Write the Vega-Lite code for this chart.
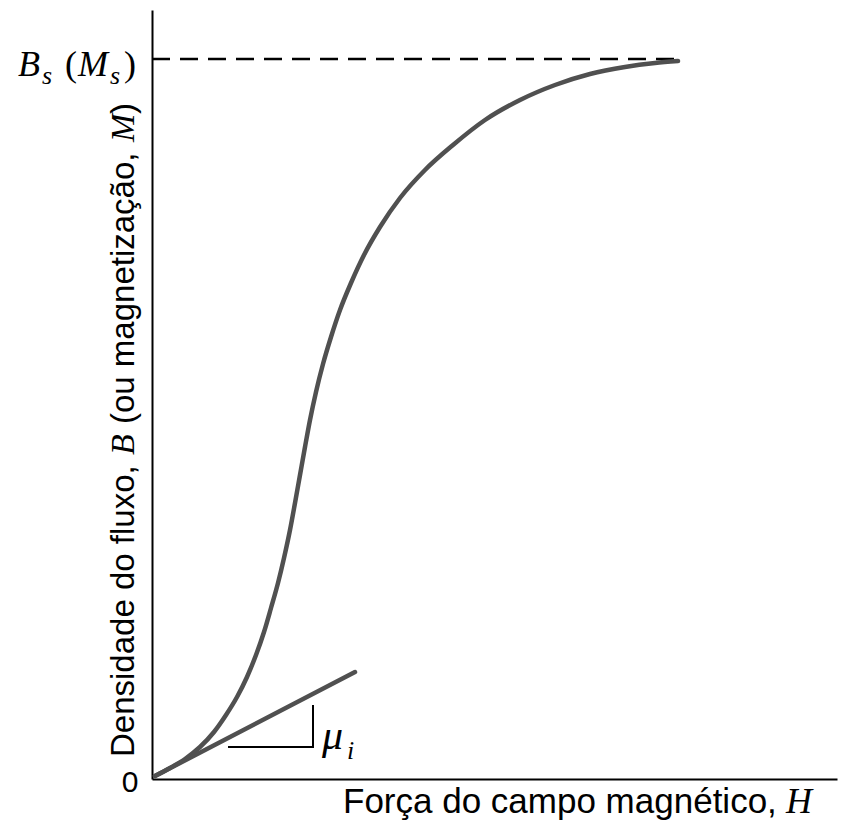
{
  "$schema": "https://vega.github.io/schema/vega-lite/v6.json",
  "width": 685,
  "height": 769,
  "autosize": {"type": "none"},
  "padding": {"left": 152, "top": 10, "right": 8, "bottom": 44},
  "background": "white",
  "config": {"view": {"stroke": null}},
  "datasets": {
    "curve": [
      {"H": 3, "B": 3}, {"H": 18, "B": 11}, {"H": 33, "B": 20}, {"H": 48, "B": 32},
      {"H": 62, "B": 47}, {"H": 74, "B": 64}, {"H": 85, "B": 82}, {"H": 95, "B": 102},
      {"H": 104, "B": 124}, {"H": 112, "B": 147}, {"H": 119, "B": 171}, {"H": 126, "B": 196},
      {"H": 132, "B": 221}, {"H": 138, "B": 249}, {"H": 143, "B": 276}, {"H": 148, "B": 304},
      {"H": 153, "B": 332}, {"H": 158, "B": 359}, {"H": 164, "B": 387}, {"H": 171, "B": 415},
      {"H": 179, "B": 442}, {"H": 188, "B": 469}, {"H": 199, "B": 496}, {"H": 212, "B": 524},
      {"H": 228, "B": 552}, {"H": 248, "B": 581}, {"H": 273, "B": 609}, {"H": 301, "B": 634},
      {"H": 333, "B": 659}, {"H": 368, "B": 679}, {"H": 403, "B": 694}, {"H": 438, "B": 705},
      {"H": 473, "B": 712}, {"H": 503, "B": 716}, {"H": 526, "B": 718}
    ],
    "tangent": [{"H": 3, "B": 3}, {"H": 203, "B": 107}],
    "triangle": [{"i": 0, "H": 76, "B": 32}, {"i": 1, "H": 161, "B": 32}, {"i": 2, "H": 161, "B": 74}],
    "sat": [{"H": 0, "B": 720}, {"H": 526, "B": 720}]
  },
  "encoding": {
    "x": {"type": "quantitative", "scale": {"domain": [0, 685], "nice": false, "zero": false}},
    "y": {"type": "quantitative", "scale": {"domain": [0, 769], "nice": false, "zero": false}}
  },
  "layer": [
    {
      "data": {"name": "sat"},
      "mark": {"type": "line", "color": "black", "strokeWidth": 2.5, "strokeDash": [18, 10]},
      "encoding": {
        "x": {"field": "H", "type": "quantitative", "axis": {"domain": true, "domainColor": "black", "domainWidth": 2, "ticks": false, "labels": false, "grid": false, "title": null}},
        "y": {"field": "B", "type": "quantitative", "axis": {"domain": true, "domainColor": "black", "domainWidth": 2, "ticks": false, "labels": false, "grid": false, "title": null}}
      }
    },
    {
      "data": {"name": "curve"},
      "mark": {"type": "line", "color": "#505050", "strokeWidth": 4.5, "interpolate": "monotone", "strokeCap": "round"},
      "encoding": {"x": {"field": "H", "type": "quantitative"}, "y": {"field": "B", "type": "quantitative"}}
    },
    {
      "data": {"name": "tangent"},
      "mark": {"type": "line", "color": "#505050", "strokeWidth": 4.5, "strokeCap": "round"},
      "encoding": {"x": {"field": "H", "type": "quantitative"}, "y": {"field": "B", "type": "quantitative"}}
    },
    {
      "data": {"name": "triangle"},
      "mark": {"type": "line", "color": "black", "strokeWidth": 2},
      "encoding": {"x": {"field": "H", "type": "quantitative"}, "y": {"field": "B", "type": "quantitative"}, "order": {"field": "i", "type": "quantitative"}}
    },
    {
      "data": {"values": [{"t": "Força do campo magnético, ", "H": 191, "B": -34}]},
      "mark": {"type": "text", "font": "Liberation Sans", "fontSize": 35, "align": "left", "baseline": "alphabetic", "color": "black"},
      "encoding": {"x": {"field": "H", "type": "quantitative"}, "y": {"field": "B", "type": "quantitative"}, "text": {"field": "t"}}
    },
    {
      "data": {"values": [{"t": "0", "H": -22, "B": -4}]},
      "mark": {"type": "text", "font": "Liberation Sans", "fontSize": 30, "align": "center", "baseline": "middle", "color": "black"},
      "encoding": {"x": {"field": "H", "type": "quantitative"}, "y": {"field": "B", "type": "quantitative"}, "text": {"field": "t"}}
    },
    {
      "data": {"values": [
        {"t": "H", "H": 634, "B": -34},
        {"t": "B", "H": -134, "B": 703},
        {"t": "M", "H": -74, "B": 703}
      ]},
      "mark": {"type": "text", "font": "Liberation Serif", "fontStyle": "italic", "fontSize": 36, "align": "left", "baseline": "alphabetic", "color": "black"},
      "encoding": {"x": {"field": "H", "type": "quantitative"}, "y": {"field": "B", "type": "quantitative"}, "text": {"field": "t"}}
    },
    {
      "data": {"values": [{"t": "μ", "H": 170, "B": 30}]},
      "mark": {"type": "text", "font": "Liberation Serif", "fontStyle": "italic", "fontSize": 42, "align": "left", "baseline": "alphabetic", "color": "black"},
      "encoding": {"x": {"field": "H", "type": "quantitative"}, "y": {"field": "B", "type": "quantitative"}, "text": {"field": "t"}}
    },
    {
      "data": {"values": [
        {"t": "s", "H": -110, "B": 695},
        {"t": "s", "H": -42, "B": 695},
        {"t": "i", "H": 195, "B": 20}
      ]},
      "mark": {"type": "text", "font": "Liberation Serif", "fontStyle": "italic", "fontSize": 26, "align": "left", "baseline": "alphabetic", "color": "black"},
      "encoding": {"x": {"field": "H", "type": "quantitative"}, "y": {"field": "B", "type": "quantitative"}, "text": {"field": "t"}}
    },
    {
      "data": {"values": [
        {"t": "(", "H": -87, "B": 703},
        {"t": ")", "H": -28, "B": 703}
      ]},
      "mark": {"type": "text", "font": "Liberation Serif", "fontSize": 36, "align": "left", "baseline": "alphabetic", "color": "black"},
      "encoding": {"x": {"field": "H", "type": "quantitative"}, "y": {"field": "B", "type": "quantitative"}, "text": {"field": "t"}}
    },
    {
      "data": {"values": [
        {"t": "Densidade do fluxo, ", "H": -18, "B": 22},
        {"t": "(ou magnetização, ", "H": -18, "B": 355},
        {"t": ")", "H": -18, "B": 665}
      ]},
      "mark": {"type": "text", "font": "Liberation Sans", "fontSize": 33, "angle": 270, "align": "left", "baseline": "alphabetic", "color": "black"},
      "encoding": {"x": {"field": "H", "type": "quantitative"}, "y": {"field": "B", "type": "quantitative"}, "text": {"field": "t"}}
    },
    {
      "data": {"values": [
        {"t": "B", "H": -18, "B": 324},
        {"t": "M", "H": -18, "B": 637}
      ]},
      "mark": {"type": "text", "font": "Liberation Serif", "fontStyle": "italic", "fontSize": 34, "angle": 270, "align": "left", "baseline": "alphabetic", "color": "black"},
      "encoding": {"x": {"field": "H", "type": "quantitative"}, "y": {"field": "B", "type": "quantitative"}, "text": {"field": "t"}}
    }
  ]
}
